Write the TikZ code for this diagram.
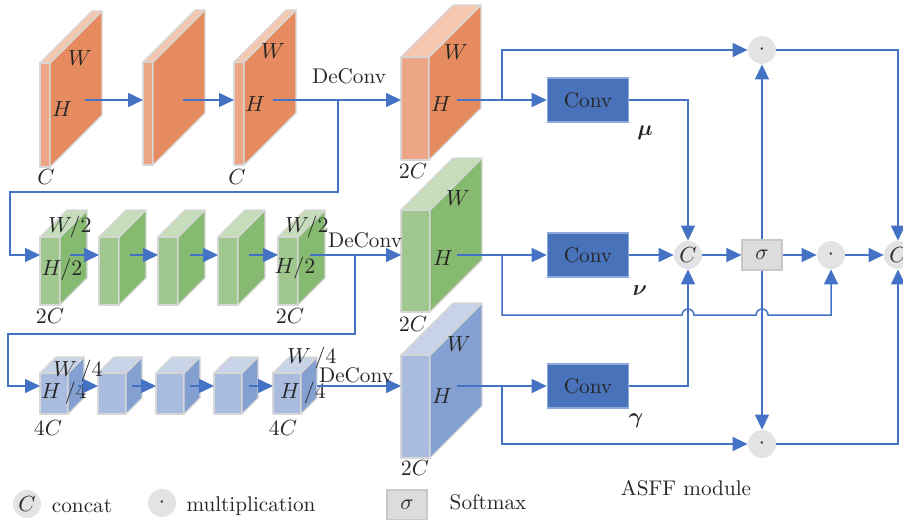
\documentclass[tikz,border=0pt]{standalone}
\usepackage{amsmath,amssymb}
\usepackage{tikz}
\usetikzlibrary{arrows.meta, positioning}
\definecolor{orfront}{RGB}{237,166,133}
\definecolor{orside}{RGB}{230,138,95}
\definecolor{ortop}{RGB}{244,199,176}
\definecolor{grfront}{RGB}{160,200,142}
\definecolor{grside}{RGB}{134,186,112}
\definecolor{grtop}{RGB}{197,221,186}
\definecolor{blfront}{RGB}{169,188,223}
\definecolor{blside}{RGB}{132,160,208}
\definecolor{bltop}{RGB}{200,211,232}
\definecolor{edgegray}{RGB}{215,215,215}
\definecolor{flowblue}{RGB}{68,114,196}
\definecolor{convblue}{RGB}{72,114,185}
\definecolor{convedge}{RGB}{142,169,219}
\definecolor{opgray}{RGB}{227,227,229}
\definecolor{softgray}{RGB}{220,220,220}
\definecolor{softedge}{RGB}{200,200,200}

% feature map: name, x, y (top-left of front face), width, height, depth, colour
\newcommand{\fmap}[7]{%
  \node[face, fill=#7front, minimum width=#4*0.5pt, minimum height=#5*0.5pt,
        anchor=north west] (#1) at (#2,#3) {};
  \filldraw[face, fill=#7side] (#1.north east) -- ++(#6,-#6) -- ++(0,#5)
    -- (#1.south east) -- cycle;
  \filldraw[face, fill=#7top] (#1.north west) -- ++(#6,-#6) -- ++(#4,0)
    -- (#1.north east) -- cycle;
}

\begin{document}
\begin{tikzpicture}[
      x=0.5pt, y=-0.5pt,
      every node/.style={font=\fontsize{10.6pt}{12pt}\selectfont, text=black!85},
      face/.style={draw=edgegray, line width=0.6pt, line join=round,
                   inner sep=0pt, outer sep=0pt},
      flow/.style={draw=flowblue, line width=0.75pt},
      arrow/.style={flow, -{Triangle[length=7.5pt, width=7pt]}},
      conv/.style={draw=convedge, fill=convblue, line width=0.8pt,
                   minimum width=40.5pt, minimum height=22pt, inner sep=0pt},
      op/.style={circle, fill=opgray, minimum size=14pt, inner sep=0pt},
      soft/.style={draw=softedge, fill=softgray, line width=0.6pt,
                   minimum width=20pt, minimum height=15pt, inner sep=0pt},
      lbl/.style={inner sep=1pt},
    ]
    \useasboundingbox (0,0) rectangle (903,519);

    % Rama 1: resolucion original
    \fmap{o1}{40}{63}{10}{104}{52}{or}
    \fmap{o2}{143}{62}{10}{103}{52}{or}
    \fmap{o3}{234}{62}{10}{103}{52}{or}
    \node[lbl] (o1W) at (80,58)  {$W$};
    \node[lbl] (o1H) at (62,109) {$H$};
    \node[lbl] (o1C) at (46,177) {$C$};
    \node[lbl] (o3W) at (273,51) {$W$};
    \node[lbl] (o3H) at (255,104) {$H$};
    \node[lbl] (o3C) at (237,177) {$C$};

    % Rama 2: W/2 x H/2
    \fmap{g1}{40}{237}{20}{68}{27}{gr}
    \fmap{g2}{99}{237}{20}{68}{27}{gr}
    \fmap{g3}{158}{237}{20}{68}{27}{gr}
    \fmap{g4}{218}{237}{20}{68}{27}{gr}
    \fmap{g5}{278}{237}{20}{68}{27}{gr}
    \node[lbl] (g1W) at (70,227)  {$W/2$};
    \node[lbl] (g1H) at (62,270)  {$H/2$};
    \node[lbl] (g1C) at (50,316)  {$2C$};
    \node[lbl] (g5W) at (307,227) {$W/2$};
    \node[lbl] (g5H) at (295,268) {$H/2$};
    \node[lbl] (g5C) at (290,316) {$2C$};

    % Rama 3: W/4 x H/4
    \fmap{b1}{40}{373}{28}{41}{16}{bl}
    \fmap{b2}{98}{373}{28}{41}{16}{bl}
    \fmap{b3}{156}{373}{28}{41}{16}{bl}
    \fmap{b4}{214}{373}{28}{41}{16}{bl}
    \fmap{b5}{273}{373}{28}{41}{16}{bl}
    \node[lbl] (b1W) at (78,371)  {$W\,/4$};
    \node[lbl] (b1H) at (64,393)  {$H\,/4$};
    \node[lbl] (b1C) at (48,428)  {$4C$};
    \node[lbl] (b5W) at (312,358) {$W\,/4$};
    \node[lbl] (b5H) at (303,393) {$H\,/4$};
    \node[lbl] (b5C) at (283,428) {$4C$};

    % Mapas tras DeConv
    \fmap{O}{401}{57}{28}{103}{52}{or}
    \fmap{G}{401}{210}{29}{102}{52}{gr}
    \fmap{B}{401}{355}{29}{103}{52}{bl}
    \node[lbl] (OW) at (456,52)  {$W$};
    \node[lbl] (OH) at (441,104) {$H$};
    \node[lbl] (OC) at (413,171) {$2C$};
    \node[lbl] (GW) at (458,198) {$W$};
    \node[lbl] (GH) at (443,258) {$H$};
    \node[lbl] (GC) at (413,324) {$2C$};
    \node[lbl] (BW) at (459,344) {$W$};
    \node[lbl] (BH) at (442,396) {$H$};
    \node[lbl] (BC) at (415,468) {$2C$};

    % Flechas rama 1
    \coordinate (o1x) at (85,100);
    \coordinate (o2x) at (183,100);
    \coordinate (o3x) at (273,100);
    \draw[arrow] (o1x) -- (o1x -| o2.west);
    \draw[arrow] (o2x) -- (o2x -| o3.west);
    \draw[arrow] (o3x) -- (o3x -| O.west);
    \node[lbl] (dc1) at (349,76) {DeConv};

    % Flechas rama 2
    \coordinate (f1)  at (338,100);
    \coordinate (gin) at (10,255);
    \draw[arrow] (f1) -- ++(0,92) -| (gin) -- (gin -| g1.west);
    \coordinate (g1x) at (70,255);
    \coordinate (g2x) at (130,255);
    \coordinate (g3x) at (190,255);
    \coordinate (g4x) at (249,255);
    \coordinate (g5x) at (310,255);
    \draw[arrow] (g1x) -- (g1x -| g2.west);
    \draw[arrow] (g2x) -- (g2x -| g3.west);
    \draw[arrow] (g3x) -- (g3x -| g4.west);
    \draw[arrow] (g4x) -- (g4x -| g5.west);
    \draw[arrow] (g5x) -- (g5x -| G.west);
    \node[lbl] (dc2) at (365,240) {DeConv};

    % Flechas rama 3
    \coordinate (f2)  at (355,255);
    \coordinate (bin) at (8,386);
    \draw[arrow] (f2) -- ++(0,79) -| (bin) -- (bin -| b1.west);
    \coordinate (b1x) at (78,386);
    \coordinate (b2x) at (132,386);
    \coordinate (b3x) at (190,386);
    \coordinate (b4x) at (249,386);
    \coordinate (b5x) at (317,386);
    \draw[arrow] (b1x) -- (b1x -| b2.west);
    \draw[arrow] (b2x) -- (b2x -| b3.west);
    \draw[arrow] (b3x) -- (b3x -| b4.west);
    \draw[arrow] (b4x) -- (b4x -| b5.west);
    \draw[arrow] (b5x) -- (b5x -| B.west);
    \node[lbl] (dc3) at (356,375) {DeConv};

    % Modulo ASFF
    \node[conv] (conv1) at (588,100) {Conv};
    \node[conv] (conv2) at (588,255) {Conv};
    \node[conv] (conv3) at (588,386) {Conv};
    \node[lbl] (mu)    at (645,133) {$\boldsymbol{\mu}$};
    \node[lbl] (nu)    at (640,291) {$\boldsymbol{\nu}$};
    \node[lbl] (gamma) at (636,421) {$\boldsymbol{\gamma}$};

    \node[op]   (cat)  at (688,255) {$C$};
    \node[soft] (sig)  at (762,255) {$\sigma$};
    \node[op]   (dotA) at (762,50)  {$\cdot$};
    \node[op]   (dotB) at (831,255) {$\cdot$};
    \node[op]   (dotC) at (762,444) {$\cdot$};
    \node[op]   (out)  at (898,255) {$C$};

    \coordinate (Ox) at (457,100);
    \coordinate (Gx) at (457,255);
    \coordinate (Bx) at (457,386);
    \coordinate (s1) at (502,100);
    \coordinate (s2) at (502,255);
    \coordinate (s3) at (502,386);

    \draw[arrow] (Ox) -- (conv1);
    \draw[arrow] (Gx) -- (conv2);
    \draw[arrow] (Bx) -- (conv3);
    \draw[arrow] (s1) |- (dotA);
    \draw[arrow] (s3) |- (dotC);
    \draw[arrow] (s2) -- ++(0,60) -- (682,315)
      arc[start angle=180, end angle=360, radius=6] -- (756,315)
      arc[start angle=180, end angle=360, radius=6] -- (831,315) -- (dotB);

    \draw[arrow] (conv1) -| (cat);
    \draw[arrow] (conv2) -- (cat);
    \draw[arrow] (conv3) -| (cat);
    \draw[arrow] (cat)  -- (sig);
    \draw[arrow] (sig)  -- (dotB);
    \draw[arrow] (dotB) -- (out);
    \draw[arrow] (sig)  -- (dotA);
    \draw[arrow] (sig)  -- (dotC);
    \draw[arrow] (dotA) -| (out);
    \draw[arrow] (dotC) -| (out);

    % Leyenda
    \node[op]   (lgC)  at (27,504)  {$C$};
    \node[lbl]  (lgCt) at (82,506)  {concat};
    \node[op]   (lgD)  at (162,503) {$\cdot$};
    \node[lbl]  (lgDt) at (251,506) {multiplication};
    \node[soft] (lgS)  at (407,505) {$\sigma$};
    \node[lbl]  (lgSt) at (488,502) {Softmax};
    \node[lbl]  (asff) at (686,488) {ASFF module};

  \end{tikzpicture}
\end{document}
